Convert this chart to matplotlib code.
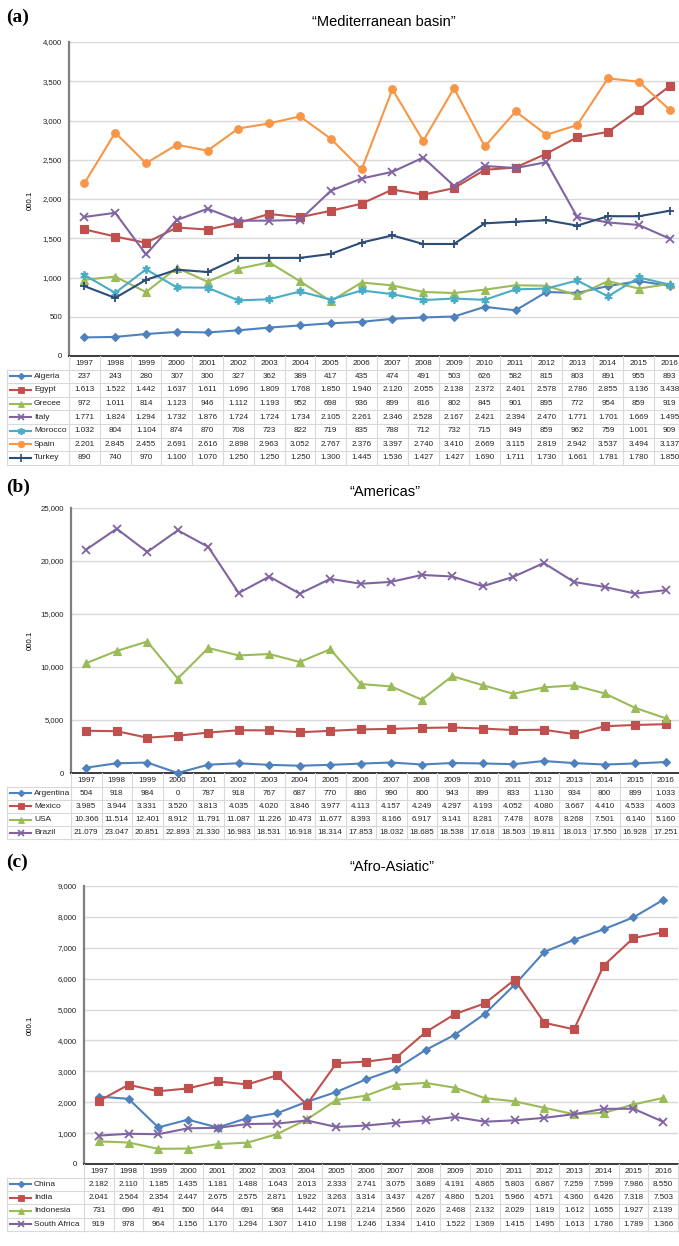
import matplotlib
matplotlib.use("Agg")
import matplotlib.pyplot as plt

plt.rcParams['font.family'] = ['Liberation Sans', 'DejaVu Sans']

years = list(range(1997, 2017))

# ---------- Panel (a) Mediterranean basin ----------
med_names = ["Algeria", "Egypt", "Grecee", "Italy", "Morocco", "Spain", "Turkey"]
algeria = [237, 243, 280, 307, 300, 327, 362, 389, 417, 435, 474, 491, 503, 626, 582, 815, 803, 891, 955, 893]
egypt = [1613, 1522, 1442, 1637, 1611, 1696, 1809, 1768, 1850, 1940, 2120, 2055, 2138, 2372, 2401, 2578, 2786, 2855, 3136, 3438]
grecee = [972, 1011, 814, 1123, 946, 1112, 1193, 952, 698, 936, 899, 816, 802, 845, 901, 895, 772, 954, 859, 919]
italy = [1771, 1824, 1294, 1732, 1876, 1724, 1724, 1734, 2105, 2261, 2346, 2528, 2167, 2421, 2394, 2470, 1771, 1701, 1669, 1495]
morocco = [1032, 804, 1104, 874, 870, 708, 723, 822, 719, 835, 788, 712, 732, 715, 849, 859, 962, 759, 1001, 909]
spain = [2201, 2845, 2455, 2691, 2616, 2898, 2963, 3052, 2767, 2376, 3397, 2740, 3410, 2669, 3115, 2819, 2942, 3537, 3494, 3137]
turkey = [890, 740, 970, 1100, 1070, 1250, 1250, 1250, 1300, 1445, 1536, 1427, 1427, 1690, 1711, 1730, 1661, 1781, 1780, 1850]

# ---------- Panel (b) Americas ----------
am_names = ["Argentina", "Mexico", "USA", "Brazil"]
argentina = [504, 918, 984, 0, 787, 918, 767, 687, 770, 886, 990, 800, 943, 899, 833, 1130, 934, 800, 899, 1033]
mexico = [3985, 3944, 3331, 3520, 3813, 4035, 4020, 3846, 3977, 4113, 4157, 4249, 4297, 4193, 4052, 4080, 3667, 4410, 4533, 4603]
usa = [10366, 11514, 12401, 8912, 11791, 11087, 11226, 10473, 11677, 8393, 8166, 6917, 9141, 8281, 7478, 8078, 8268, 7501, 6140, 5160]
brazil = [21079, 23047, 20851, 22893, 21330, 16983, 18531, 16918, 18314, 17853, 18032, 18685, 18538, 17618, 18503, 19811, 18013, 17550, 16928, 17251]

# ---------- Panel (c) Afro-Asiatic ----------
af_names = ["China", "India", "Indonesia", "South Africa"]
china = [2182, 2110, 1185, 1435, 1181, 1488, 1643, 2013, 2333, 2741, 3075, 3689, 4191, 4865, 5803, 6867, 7259, 7599, 7986, 8550]
india = [2041, 2564, 2354, 2447, 2675, 2575, 2871, 1922, 3263, 3314, 3437, 4267, 4860, 5201, 5966, 4571, 4360, 6426, 7318, 7503]
indonesia = [731, 696, 491, 500, 644, 691, 968, 1442, 2071, 2214, 2566, 2626, 2468, 2132, 2029, 1819, 1612, 1655, 1927, 2139]
south_africa = [919, 978, 964, 1156, 1170, 1294, 1307, 1410, 1198, 1246, 1334, 1410, 1522, 1369, 1415, 1495, 1613, 1786, 1789, 1366]

BLUE, RED, GREEN, PURPLE, CYAN, ORANGE, NAVY = "#4F81BD", "#C0504D", "#9BBB59", "#8064A2", "#4BACC6", "#F79646", "#2C4D75"
STAR = (6, 2, 0)
med_styles = [(BLUE, "D", 4.0), (RED, "s", 5.5), (GREEN, "^", 5.5), (PURPLE, "x", 5.5),
              (CYAN, STAR, 6.0), (ORANGE, "o", 5.5), (NAVY, "+", 6.0)]
am_styles = [(BLUE, "D", 4.0), (RED, "s", 5.5), (GREEN, "^", 5.5), (PURPLE, "x", 5.5)]
af_styles = am_styles

W, H = 679, 1246
fig = plt.figure(figsize=(W / 100, H / 100), dpi=100)
over = fig.add_axes([0, 0, 1, 1])
over.set_xlim(0, W)
over.set_ylim(H, 0)
over.axis("off")
over.set_zorder(5)
over.patch.set_alpha(0)

GRID = "#D9D9D9"
TXT = "#222222"


def fmt_tick(v):
    return f"{int(v):,}"


def fmt_cell(v):
    return f"{v:,}".replace(",", ".")


def panel(letter, title, letter_y, title_y, names, series, styles, left, right, top, bottom,
          ymax, step, ylabel_y, row_h):
    ax = fig.add_axes([left / W, 1 - bottom / H, (right - left) / W, (bottom - top) / H])
    ax.set_xlim(years[0] - 0.5, years[-1] + 0.5)
    ax.set_ylim(0, ymax)
    ticks = list(range(0, ymax + 1, step))
    ax.set_yticks(ticks)
    ax.set_yticklabels([fmt_tick(t) for t in ticks], fontsize=5.6, color=TXT)
    ax.set_xticks([])
    ax.tick_params(axis="y", length=0, pad=5)
    for t in ticks:
        ax.axhline(t, color=GRID, lw=1.0, zorder=0)
    for s in ["top", "right"]:
        ax.spines[s].set_visible(False)
    ax.spines["left"].set_color("#7F7F7F")
    ax.spines["left"].set_linewidth(1.6)
    ax.spines["bottom"].set_color("#1A1A1A")
    ax.spines["bottom"].set_linewidth(1.2)
    ax.patch.set_alpha(0)
    for vals, (c, m, ms) in zip(series, styles):
        ax.plot(years, vals, color=c, lw=1.5, marker=m, ms=ms, mew=1.3 if m in ("x", "+", STAR) else 0.8,
                mec=c, mfc=c, clip_on=False, zorder=3)

    over.text(6, letter_y, f"({letter})", fontsize=14, fontweight="bold",
              family=["Liberation Serif", "DejaVu Serif"], va="center", ha="left")
    over.text((left + 679) / 2 + 10, title_y, f"\u201c{title}\u201d", fontsize=10.5, va="center", ha="center")
    over.text(30, ylabel_y, "000.1", rotation=90, fontsize=5.6, va="center", ha="center")

    n = len(years)
    cw = (right - left) / n
    yr_top = bottom
    yr_h = 13.5
    rows_top = yr_top + yr_h
    tab_bottom = rows_top + row_h * len(names)
    lx = 7
    for i in range(len(names) + 1):
        y = rows_top + i * row_h
        over.plot([lx, left + n * cw], [y, y], color=GRID, lw=0.8, zorder=1, clip_on=False)
    for j in range(n + 1):
        x = left + j * cw
        over.plot([x, x], [yr_top, tab_bottom], color=GRID, lw=0.8, zorder=1)
    over.plot([lx, lx], [rows_top, tab_bottom], color=GRID, lw=0.8, zorder=1)
    for j, yr in enumerate(years):
        over.text(left + (j + 0.5) * cw, yr_top + yr_h / 2 + 0.5, str(yr), fontsize=5.8,
                  ha="center", va="center", color=TXT)
    for i, (nm, vals, (c, m, ms)) in enumerate(zip(names, series, styles)):
        yc = rows_top + (i + 0.5) * row_h
        over.plot([10, 31], [yc, yc], color=c, lw=1.5, zorder=2)
        over.plot([20.5], [yc], marker=m, color=c, ms=ms * 0.85, mew=1.2 if m in ("x", "+", STAR) else 0.6,
                  zorder=3)
        over.text(34, yc, nm, fontsize=6.0, ha="left", va="center", color=TXT)
        for j, v in enumerate(vals):
            over.text(left + (j + 0.5) * cw, yc, fmt_cell(v), fontsize=5.8, ha="center", va="center",
                      color=TXT)


panel("a", "Mediterranean basin", 17, 22, med_names,
      [algeria, egypt, grecee, italy, morocco, spain, turkey], med_styles,
      69, 685, 42, 356, 4000, 500, 200, 13.6)
panel("b", "Americas", 487, 492, am_names, [argentina, mexico, usa, brazil], am_styles,
      71, 681, 508, 773, 25000, 5000, 640, 13.2)
panel("c", "Afro-Asiatic", 862, 867, af_names, [china, india, indonesia, south_africa], af_styles,
      84, 678, 886, 1164, 9000, 1000, 1025, 13.4)

fig.savefig("out.png", dpi=100)
